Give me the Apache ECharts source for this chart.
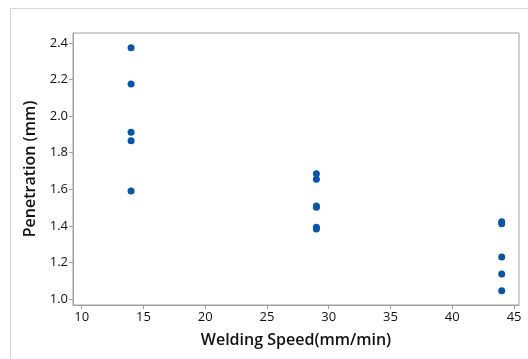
<!DOCTYPE html>
<html>
<head>
<meta charset="utf-8">
<script src="https://cdn.jsdelivr.net/npm/echarts@6/dist/echarts.min.js"></script>
<style>html,body{margin:0;padding:0;background:#fff}#c{width:528px;height:359px}</style>
</head>
<body>
<div id="c"></div>
<script>
const speeds = [14, 14, 14, 14, 14, 29, 29, 29, 29, 29, 29, 44, 44, 44, 44, 44];
const penetration = [2.374, 2.176, 1.912, 1.866, 1.591, 1.685, 1.655, 1.508, 1.502, 1.392, 1.383, 1.422, 1.412, 1.23, 1.136, 1.045];
const xTicks = [10, 15, 20, 25, 30, 35, 40, 45];
const yTicks = [1.0, 1.2, 1.4, 1.6, 1.8, 2.0, 2.2, 2.4];

const points = speeds.map((s, i) => [s, penetration[i]]);
const chart = echarts.init(document.getElementById('c'), null, {renderer: 'canvas'});
const font = '"Open Sans", "Noto Sans", sans-serif';
const gray = '#a0a0a0';
chart.setOption({
  animation: false,
  graphic: [{
    type: 'rect', shape: {x: 10.5, y: 8.5, width: 600, height: 400},
    style: {fill: 'none', stroke: '#d4d4d4', lineWidth: 1}, z: -1
  }],
  grid: {left: 73, top: 33, right: 9, bottom: 54, show: true, borderColor: gray, borderWidth: 1, backgroundColor: '#fff'},
  xAxis: {
    type: 'value', min: 9.3, max: 45.4,
    name: 'Welding Speed(mm/min)', nameLocation: 'middle', nameGap: 27,
    nameTextStyle: {fontFamily: font, fontSize: 16, fontWeight: 600, color: '#111'},
    axisLine: {show: true, lineStyle: {color: gray}},
    axisTick: {show: true, length: 4, lineStyle: {color: gray},
      customValues: xTicks},
    axisLabel: {fontFamily: font, fontSize: 13, color: '#111', margin: 6,
      customValues: xTicks, formatter: v => String(v)},
    splitLine: {show: false}
  },
  yAxis: {
    type: 'value', min: 0.967, max: 2.455,
    name: 'Penetration (mm)', nameLocation: 'middle', nameGap: 33,
    nameTextStyle: {fontFamily: font, fontSize: 16, fontWeight: 600, color: '#111'},
    axisLine: {show: true, lineStyle: {color: gray}},
    axisTick: {show: true, length: 4, lineStyle: {color: gray},
      customValues: yTicks},
    axisLabel: {fontFamily: font, fontSize: 13, color: '#111', margin: 5,
      customValues: yTicks, formatter: v => v.toFixed(1)},
    splitLine: {show: false}
  },
  series: [{
    type: 'scatter', data: points, symbol: 'circle', symbolSize: 7,
    itemStyle: {color: '#0a56a5', opacity: 1}
  }]
});
</script>
</body>
</html>
